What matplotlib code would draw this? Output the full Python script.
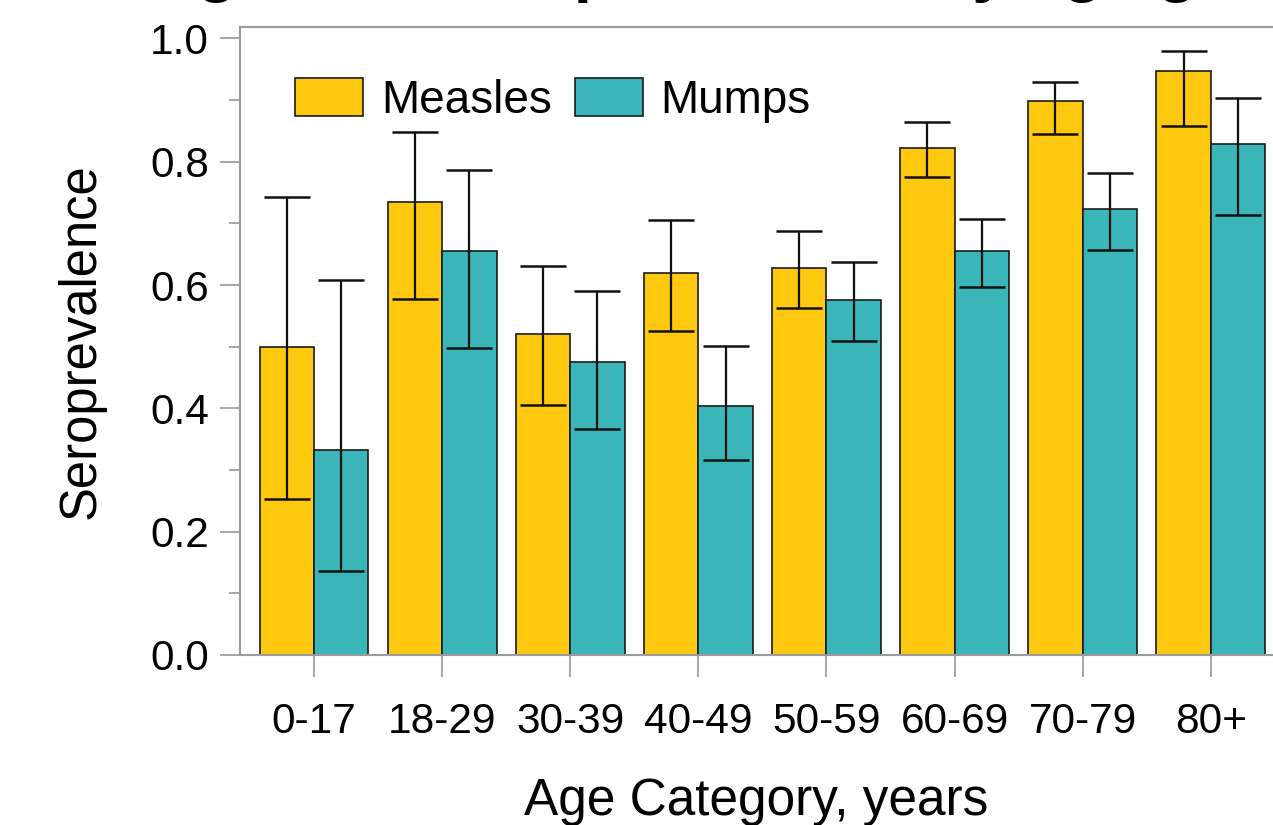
import numpy as np
import matplotlib
matplotlib.use("Agg")
import matplotlib.pyplot as plt
from matplotlib.ticker import MultipleLocator

plt.rcParams["font.family"] = ["Liberation Sans", "DejaVu Sans"]

age_groups = ["0-17", "18-29", "30-39", "40-49", "50-59", "60-69", "70-79", "80+"]

measles = [0.50, 0.735, 0.52, 0.62, 0.627, 0.823, 0.898, 0.947]
measles_lo = [0.253, 0.578, 0.405, 0.525, 0.563, 0.776, 0.845, 0.858]
measles_hi = [0.743, 0.848, 0.631, 0.705, 0.688, 0.865, 0.930, 0.980]

mumps = [0.333, 0.655, 0.476, 0.404, 0.575, 0.655, 0.724, 0.829]
mumps_lo = [0.137, 0.498, 0.366, 0.316, 0.509, 0.597, 0.657, 0.713]
mumps_hi = [0.608, 0.787, 0.591, 0.501, 0.638, 0.707, 0.782, 0.903]

c_measles = "#FEC80E"
c_mumps = "#3AB6B9"
grey = "#9a9a9a"

x = np.arange(len(age_groups))
w = 0.425

fig = plt.figure(figsize=(12.73, 8.25), dpi=100)
ax = fig.add_axes([240 / 1273, 1 - 655 / 825, 1033 / 1273, (655 - 26.7) / 825])

m = np.array(measles)
u = np.array(mumps)
err_m = [m - np.array(measles_lo), np.array(measles_hi) - m]
err_u = [u - np.array(mumps_lo), np.array(mumps_hi) - u]

ebar = dict(ecolor="#111111", elinewidth=1.6, capsize=16.5, capthick=1.8)
ax.bar(x - w / 2, m, w, color=c_measles, edgecolor="#1a1a1a", linewidth=1.2,
       yerr=err_m, error_kw=ebar, label="Measles", zorder=2)
ax.bar(x + w / 2, u, w, color=c_mumps, edgecolor="#1a1a1a", linewidth=1.2,
       yerr=err_u, error_kw=ebar, label="Mumps", zorder=2)

ax.set_xlim(-0.578, 7.486)
ax.set_ylim(0, 1.019)

ax.spines["right"].set_visible(False)
for s in ["left", "top", "bottom"]:
    ax.spines[s].set_color(grey)
    ax.spines[s].set_linewidth(1.5)

ax.set_xticks(x)
ax.set_xticklabels(age_groups)
ax.yaxis.set_major_locator(MultipleLocator(0.2))
ax.yaxis.set_minor_locator(MultipleLocator(0.1))
ax.yaxis.set_major_formatter(matplotlib.ticker.FormatStrFormatter("%.1f"))
ax.tick_params(axis="y", which="major", direction="out", length=14.5, width=1.2,
               color=grey, labelsize=30.5, pad=8)
ax.tick_params(axis="y", which="minor", direction="out", length=8, width=1.2, color=grey)
ax.tick_params(axis="x", which="major", direction="out", length=16, width=1.2,
               color=grey, labelsize=30.5, pad=18)

ax.set_ylabel("Seroprevalence", fontsize=36.5, labelpad=32)
ax.set_xlabel("Age Category, years", fontsize=37, labelpad=25)

ax.legend(loc="upper left", bbox_to_anchor=(0.053, 0.918), ncol=2, frameon=False,
          fontsize=33, handlelength=1.5, handleheight=0.9, handletextpad=0.38,
          columnspacing=0.5, borderpad=0, borderaxespad=0)

# heading sits above the top edge, only its descenders reach the canvas
fig.text(139 / 1273, 1 + 10 / 825, "Figure 1. Seroprevalence by age group",
         fontsize=47, fontweight="bold", ha="left", va="baseline")

fig.savefig("out.png", dpi=100)
